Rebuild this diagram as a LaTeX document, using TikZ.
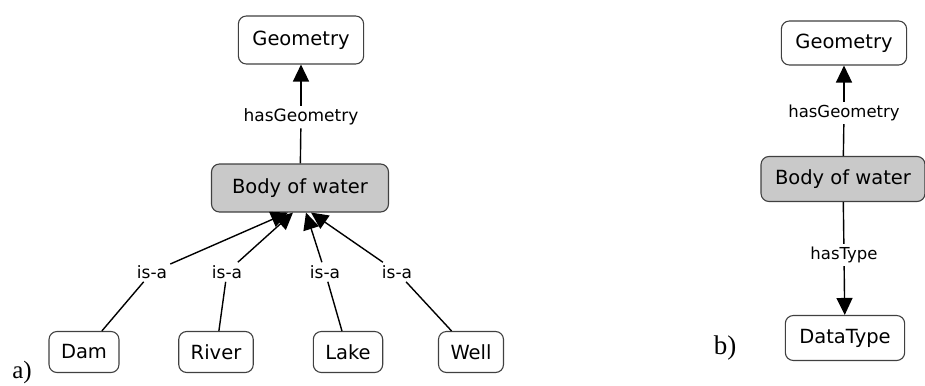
\documentclass[tikz,border=0pt]{standalone}
\usepackage{fontspec}
\setmainfont{Liberation Serif}
\setsansfont{DejaVu Sans}
\usetikzlibrary{arrows.meta}
\tikzset{
  cls/.style={draw=black!75, line width=1.1pt, rounded corners=8pt, fill=white,
    font=\sffamily\fontsize{19.5}{23}\selectfont, inner xsep=14pt, minimum height=48pt},
  clsgray/.style={cls, fill=gray!42},
  leaf/.style={cls, inner xsep=12pt, minimum height=41pt},
  rel/.style={font=\sffamily\fontsize{17}{20}\selectfont, inner sep=3pt},
  link/.style={line width=1.4pt},
  isa/.style={link, -{Triangle[length=17pt,width=16pt]}},
}

\begin{document}
\begin{tikzpicture}[x=1pt, y=-1pt]
  \useasboundingbox (0,0) rectangle (925,385);

  % a) class hierarchy
  \node[cls] (geoA) at (301,40) {Geometry};
  \node[clsgray, minimum width=177pt] (waterA) at (300,188) {Body of water};
  \node[rel] (hasGeoA) at (301,117) {hasGeometry};
  \draw[link] (waterA) -- (hasGeoA);
  \draw[isa] (hasGeoA) -- (geoA);

  \node[leaf] (dam) at (84,352) {Dam};
  \node[leaf] (river) at (216,352) {River};
  \node[leaf] (lake) at (348,352) {Lake};
  \node[leaf] (well) at (471,352) {Well};
  \node[rel] (isaDam) at (152,272) {is-a};
  \node[rel] (isaRiver) at (227,272) {is-a};
  \node[rel] (isaLake) at (325,272) {is-a};
  \node[rel] (isaWell) at (397,272) {is-a};
  \coordinate (tipDam) at ([xshift=-12pt]waterA.south);
  \coordinate (tipRiver) at ([xshift=-7pt]waterA.south);
  \coordinate (tipLake) at ([xshift=6pt]waterA.south);
  \coordinate (tipWell) at ([xshift=11pt]waterA.south);
  \foreach \n/\l in {dam/Dam, river/River, lake/Lake, well/Well} {
    \draw[link] (\n) -- (isa\l);
    \draw[isa] (isa\l) -- (tip\l);
  }
  \node[font=\fontsize{25}{28}\selectfont] (capA) at (22,372) {a)};

  % b) with data type
  \begin{scope}[every node/.append style={font=\sffamily\fontsize{18.5}{22}\selectfont}]
    \node[cls, minimum height=44pt] (geoB) at (844,43) {Geometry};
    \node[clsgray, minimum height=45pt] (waterB) at (843,179) {Body of water};
    \node[cls, minimum height=45pt] (dataB) at (845,338) {DataType};
    \node[rel, font=\sffamily\fontsize{16.5}{20}\selectfont] (hasGeoB) at (844,113) {hasGeometry};
    \node[rel, font=\sffamily\fontsize{16.5}{20}\selectfont] (hasTypeB) at (844,255) {hasType};
  \end{scope}
  \draw[link] (waterB) -- (hasGeoB);
  \draw[isa] (hasGeoB) -- (geoB);
  \draw[link] (waterB) -- (hasTypeB);
  \draw[isa] (hasTypeB) -- (dataB);
  \node[font=\fontsize{27}{30}\selectfont] (capB) at (725,348) {b)};
\end{tikzpicture}
\end{document}
